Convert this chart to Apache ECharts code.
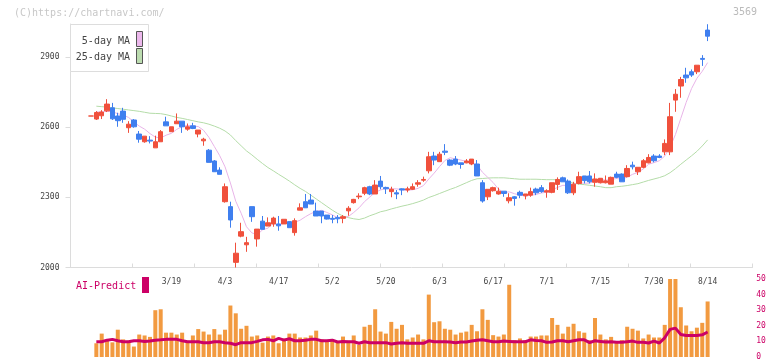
<!DOCTYPE html>
<html><head><meta charset="utf-8">
<script src="https://cdn.jsdelivr.net/npm/echarts@6/dist/echarts.min.js"></script>
<style>html,body{margin:0;padding:0;background:#fff}#c{width:772px;height:361px}</style>
</head><body><div id="c"></div>
<script>
const dates = ['2/26','2/27','2/28','3/3','3/4','3/5','3/6','3/7','3/10','3/11','3/12','3/13','3/14','3/17','3/18','3/19','3/21','3/24','3/25','3/26','3/27','3/28','3/31','4/1','4/2','4/3','4/4','4/7','4/8','4/9','4/10','4/11','4/14','4/15','4/16','4/17','4/18','4/21','4/22','4/23','4/24','4/25','4/28','4/30','5/1','5/2','5/7','5/8','5/9','5/12','5/13','5/14','5/15','5/16','5/19','5/20','5/21','5/22','5/23','5/26','5/27','5/28','5/29','5/30','6/2','6/3','6/4','6/5','6/6','6/9','6/10','6/11','6/12','6/13','6/16','6/17','6/18','6/19','6/20','6/23','6/24','6/25','6/26','6/27','6/30','7/1','7/2','7/3','7/4','7/7','7/8','7/9','7/10','7/11','7/14','7/15','7/16','7/17','7/18','7/22','7/23','7/24','7/25','7/28','7/29','7/30','7/31','8/1','8/4','8/5','8/6','8/7','8/8','8/12','8/13','8/14'];
const openP = [2647,2634,2648,2669,2682,2647,2668,2597,2630,2570,2537,2544,2511,2537,2622,2580,2614,2625,2591,2605,2570,2541,2501,2455,2416,2281,2260,2022,2134,2097,2260,2122,2198,2177,2186,2186,2186,2196,2149,2245,2281,2288,2241,2241,2224,2210,2214,2210,2242,2277,2302,2317,2345,2314,2369,2342,2324,2319,2336,2331,2334,2356,2373,2413,2476,2452,2497,2459,2463,2447,2447,2442,2442,2362,2302,2328,2314,2326,2285,2302,2321,2306,2309,2335,2341,2322,2321,2355,2383,2369,2319,2359,2391,2391,2364,2362,2362,2356,2399,2399,2388,2437,2409,2428,2447,2476,2476,2494,2494,2715,2775,2822,2836,2836,2893,3014];
const closeP = [2647,2662,2664,2698,2635,2627,2633,2612,2601,2548,2561,2540,2537,2580,2605,2601,2625,2601,2601,2594,2587,2548,2449,2409,2398,2345,2203,2061,2153,2106,2217,2164,2163,2191,2211,2178,2206,2170,2200,2255,2255,2271,2220,2220,2207,2206,2208,2217,2253,2291,2305,2341,2314,2352,2345,2336,2334,2314,2331,2336,2345,2362,2376,2473,2459,2484,2492,2437,2442,2440,2455,2463,2391,2284,2334,2341,2326,2316,2298,2295,2309,2314,2324,2319,2324,2328,2362,2376,2366,2319,2356,2388,2371,2366,2378,2381,2370,2385,2385,2366,2423,2430,2428,2456,2470,2456,2470,2530,2644,2740,2803,2810,2822,2864,2889,2988];
const lowP = [2647,2630,2634,2664,2630,2601,2618,2575,2597,2533,2533,2530,2511,2537,2605,2580,2614,2575,2584,2591,2556,2520,2449,2409,2398,2277,2170,2000,2129,2067,2195,2089,2163,2177,2174,2157,2186,2170,2136,2245,2255,2271,2220,2189,2205,2189,2189,2189,2221,2273,2292,2309,2309,2314,2334,2314,2300,2292,2309,2321,2331,2345,2366,2402,2437,2452,2480,2433,2437,2422,2445,2437,2391,2277,2288,2324,2311,2302,2274,2264,2296,2291,2302,2309,2319,2298,2317,2331,2366,2314,2309,2355,2359,2359,2345,2359,2359,2356,2381,2366,2385,2419,2395,2424,2445,2449,2467,2480,2480,2665,2725,2789,2814,2826,2861,2967];
const highP = [2647,2668,2672,2719,2703,2661,2682,2625,2634,2583,2561,2561,2563,2587,2644,2601,2658,2625,2615,2618,2587,2554,2506,2459,2428,2359,2281,2106,2191,2131,2260,2164,2220,2214,2217,2220,2206,2196,2210,2274,2314,2314,2277,2241,2224,2224,2224,2224,2262,2293,2317,2345,2349,2373,2391,2345,2345,2331,2338,2345,2359,2373,2388,2494,2494,2494,2527,2462,2476,2447,2463,2463,2459,2373,2334,2345,2341,2326,2317,2305,2328,2314,2341,2341,2352,2334,2362,2385,2388,2376,2366,2409,2391,2412,2402,2381,2393,2388,2409,2402,2437,2452,2428,2463,2484,2484,2484,2547,2703,2762,2814,2853,2846,2864,2907,3039];
const volume = [null,8.8,15,10.4,9.4,17.5,11.3,10.4,6.7,14.4,13.8,12.9,30,30.6,15.6,15.6,14.4,15.6,10.4,13.8,17.9,16.3,14.4,17.9,14.4,17.5,33,28,18.1,20,13.1,13.8,9.2,13.1,13.8,8.8,11.9,15,15,12.5,12.5,13.8,16.9,11.3,10.4,10.4,9.2,13.1,10.4,13.8,7.9,19.4,20.6,30.6,16.3,15,22.5,18.1,20.6,11.3,12.5,14.4,11.3,40,22.3,22.9,18.1,17.5,14.4,15.6,16.3,20.6,16.5,30.6,23.8,14,13.1,14.4,46.3,10.8,11.9,10.8,13.1,13.1,13.8,13.8,25,20.6,15,19.4,21.3,16.5,15.6,10.8,25,14.4,11.3,12.9,9.4,10.8,19.4,18.1,16.9,11.9,14.4,12.5,12.5,20.6,60,55,31.9,20.2,16.5,18.8,21.9,35.6];
const aiPredict = [null,9.8,9.8,10.8,11.3,10.4,9.8,9.8,10.4,10.4,10,10.2,10.8,11,11.3,11.3,11.3,10.4,9.8,9.8,9.8,9.2,9.2,9.8,9.8,9.2,8.8,7.9,9.2,9.2,9.2,10,11,11.3,10.4,11.9,10.8,11.7,10.4,10.4,10.8,11.3,11.3,10.4,10.4,10.8,9.6,10,9.8,9.8,8.8,9.8,9.2,9.2,9.2,9.2,8.3,8.8,9.2,8.8,8.8,8.8,8.8,10.4,9.8,9.8,9.8,9.6,9.2,9.6,9.6,10.2,10.8,11,10.4,9.8,9.8,10.2,10,9.8,9.8,9.8,11,10.6,10.4,9.4,9.6,10.4,10.4,9.8,10.4,11,11,9.2,10.4,10,9.6,9.8,9.4,9.4,9.8,10.2,9.4,9.4,9,10.2,9,12.3,17.7,18.5,14.4,13.8,13.8,13.8,14.2,16];
const ma5 = [null,2665,2664,2667,2665,2657,2651,2641,2622,2604,2591,2572,2557,2553,2565,2573,2590,2602,2607,2604,2602,2586,2556,2517,2478,2430,2361,2283,2232,2174,2148,2140,2161,2168,2189,2181,2190,2191,2193,2202,2217,2230,2240,2244,2235,2225,2212,2212,2218,2235,2255,2281,2301,2321,2331,2338,2336,2336,2332,2330,2332,2338,2350,2378,2403,2431,2457,2469,2463,2459,2453,2447,2438,2407,2385,2363,2335,2320,2323,2315,2309,2306,2308,2312,2318,2322,2331,2342,2351,2350,2356,2361,2360,2360,2372,2377,2373,2376,2380,2377,2386,2398,2406,2421,2441,2448,2456,2476,2514,2568,2637,2705,2764,2808,2838,2875];
const ma25 = [null,2689,2687,2685,2682,2679,2676,2673,2670,2667,2663,2659,2658,2657,2653,2647,2641,2637,2632,2627,2622,2618,2612,2604,2595,2583,2566,2542,2520,2498,2481,2462,2444,2427,2413,2398,2384,2369,2353,2338,2325,2309,2293,2277,2261,2245,2231,2220,2213,2208,2205,2211,2221,2229,2238,2243,2250,2256,2262,2267,2273,2280,2288,2299,2307,2316,2325,2334,2342,2352,2362,2372,2379,2380,2382,2383,2383,2383,2381,2379,2377,2377,2377,2377,2376,2375,2375,2375,2371,2366,2360,2356,2354,2351,2348,2345,2341,2341,2345,2347,2350,2354,2358,2365,2372,2378,2384,2392,2405,2422,2441,2459,2477,2496,2519,2545];
const priceTicks = [2000,2300,2600,2900];
const FONT = '"DejaVu Sans Mono","Liberation Mono",monospace';

const candleData = dates.map((d, i) => [openP[i], closeP[i], lowP[i], highP[i]]);
const showDate = (i) => i >= 15 && (i - 15) % 10 === 0;

const chart = echarts.init(document.getElementById('c'), null, {renderer: 'canvas'});
chart.setOption({
  animation: false,
  grid: [
    {left: 88.3, top: 24, width: 622, height: 243.5},
    {left: 70.5, top: 24, width: 682, height: 243.5},
    {left: 88.3, top: 279, width: 622, height: 80}
  ],
  xAxis: [
    {type: 'category', gridIndex: 0, data: dates, boundaryGap: true,
     axisLine: {show: false}, axisTick: {show: false}, splitLine: {show: false},
     axisLabel: {interval: (i) => showDate(i), hideOverlap: false, margin: 10, fontSize: 8, fontFamily: FONT, color: '#444'}},
    {type: 'value', gridIndex: 1, min: 0, max: 11, interval: 1,
     axisLine: {lineStyle: {color: '#dcdcdc'}}, axisTick: {inside: true, length: 4, lineStyle: {color: '#dcdcdc'}},
     axisLabel: {show: false}, splitLine: {show: false}},
    {type: 'category', gridIndex: 2, data: dates, boundaryGap: true, show: false}
  ],
  yAxis: [
    {type: 'value', gridIndex: 0, min: 2000, max: 3040, show: false, splitLine: {show: false}},
    {type: 'value', gridIndex: 1, min: 2000, max: 3040,
     axisLine: {show: true, lineStyle: {color: '#dcdcdc'}},
     axisTick: {show: true, length: 5, customValues: priceTicks, lineStyle: {color: '#dcdcdc'}},
     axisLabel: {customValues: priceTicks, formatter: (v) => String(v), margin: 11, fontSize: 8, fontFamily: FONT, color: '#444'},
     splitLine: {show: false}},
    {type: 'value', gridIndex: 2, min: 0, max: 50, interval: 10, position: 'right', offset: 44,
     axisLine: {show: false}, axisTick: {show: false}, splitLine: {show: false},
     axisLabel: {margin: 2, fontSize: 8, fontFamily: FONT, color: '#cc0066'}}
  ],
  series: [
    {type: 'line', name: '25-day MA', xAxisIndex: 0, yAxisIndex: 0, data: ma25, showSymbol: false, z: 1,
     lineStyle: {width: 1, color: '#b4dca8'}},
    {type: 'line', name: '5-day MA', xAxisIndex: 0, yAxisIndex: 0, data: ma5, showSymbol: false, z: 1,
     lineStyle: {width: 1, color: '#e8b4e8'}},
    {type: 'candlestick', xAxisIndex: 0, yAxisIndex: 0, data: candleData, barWidth: 5, z: 3,
     itemStyle: {color: '#f0503c', color0: '#3f7fef', borderColor: '#f0503c', borderColor0: '#3f7fef', borderWidth: 1}},
    {type: 'bar', xAxisIndex: 2, yAxisIndex: 2, data: volume, barWidth: 4, clip: true, z: 2,
     itemStyle: {color: '#f29a40'}},
    {type: 'line', xAxisIndex: 2, yAxisIndex: 2, data: aiPredict, showSymbol: false, z: 3,
     lineStyle: {width: 3, color: '#cc0066'}}
  ],
  graphic: [
    {type: 'text', x: 14, y: 13, z: 10, style: {text: '(C)https://chartnavi.com/', fontSize: 10, fontFamily: FONT, fill: '#c8c8c8', align: 'left', verticalAlign: 'middle'}},
    {type: 'text', x: 757, y: 12, z: 10, style: {text: '3569', fontSize: 10, fontFamily: FONT, fill: '#bbbbbb', align: 'right', verticalAlign: 'middle'}},
    {type: 'rect', z: 20, shape: {x: 70.5, y: 24.5, width: 78, height: 47}, style: {fill: '#fff', stroke: '#dddddd', lineWidth: 1}},
    {type: 'text', z: 21, x: 130, y: 41, style: {text: '5-day MA', fontSize: 10, fontFamily: FONT, fill: '#444', align: 'right', verticalAlign: 'middle'}},
    {type: 'text', z: 21, x: 130, y: 57, style: {text: '25-day MA', fontSize: 10, fontFamily: FONT, fill: '#444', align: 'right', verticalAlign: 'middle'}},
    {type: 'rect', z: 21, shape: {x: 136.5, y: 31.5, width: 6, height: 15}, style: {fill: '#ecb8ec', stroke: '#555', lineWidth: 1}},
    {type: 'rect', z: 21, shape: {x: 136.5, y: 48.5, width: 6, height: 15}, style: {fill: '#bcdcb0', stroke: '#555', lineWidth: 1}},
    {type: 'text', z: 21, x: 76, y: 286, style: {text: 'AI-Predict', fontSize: 10, fontFamily: FONT, fill: '#cc0066', align: 'left', verticalAlign: 'middle'}},
    {type: 'rect', z: 21, shape: {x: 142, y: 277, width: 7, height: 16}, style: {fill: '#cc0066'}}
  ]
});
</script>
</body></html>
